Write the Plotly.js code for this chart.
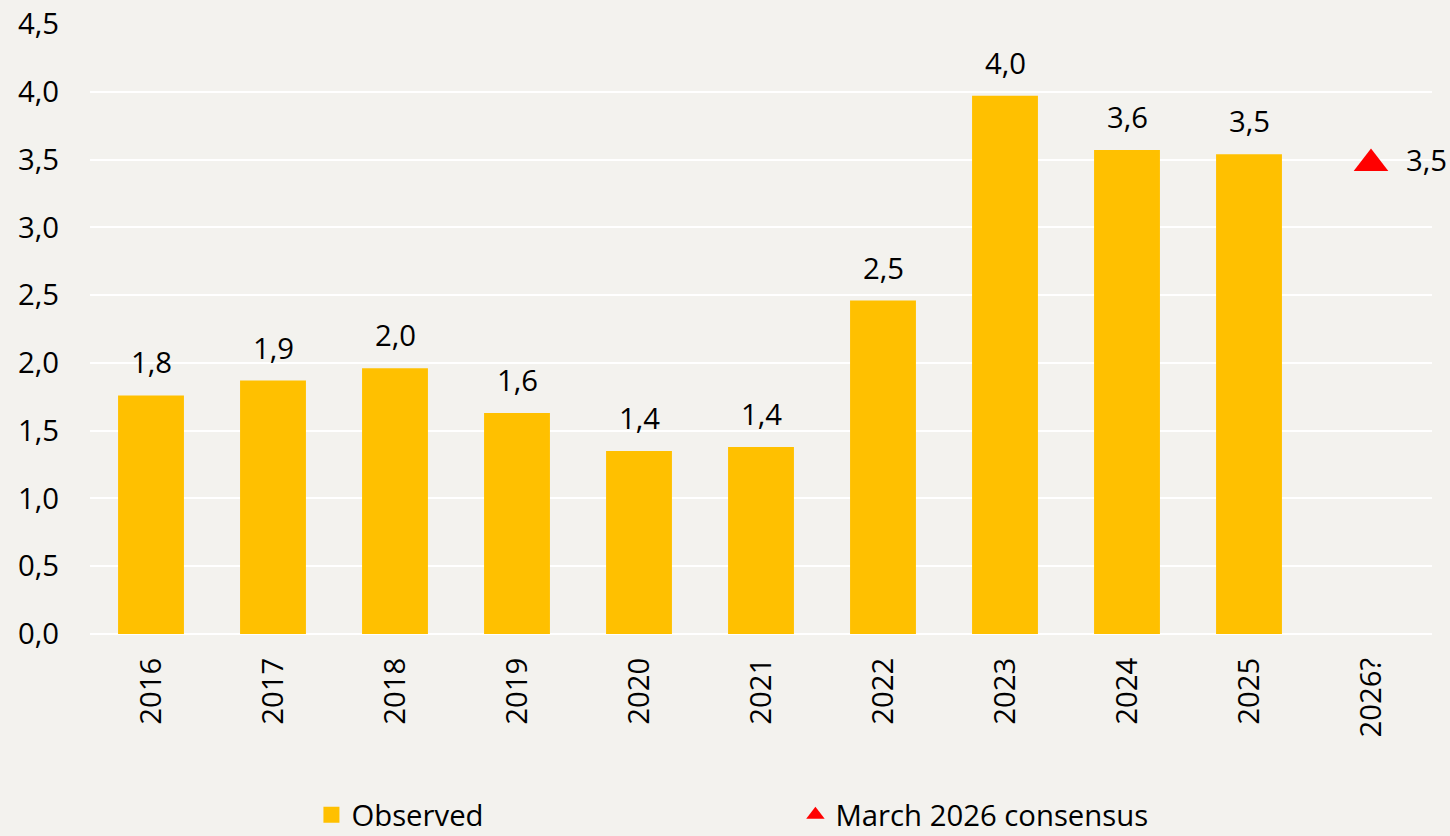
<!DOCTYPE html>
<html>
<head>
<meta charset="utf-8">
<script src="https://cdn.plot.ly/plotly-3.0.1.min.js"></script>
<style>
  html, body { margin: 0; padding: 0; background: #f3f2ee; }
  #chart { width: 1450px; height: 836px; }
</style>
</head>
<body>
<div id="chart"></div>
<script>
const categories = ['2016','2017','2018','2019','2020','2021','2022','2023','2024','2025','2026?'];
const observedYears = ['2016','2017','2018','2019','2020','2021','2022','2023','2024','2025'];
const observedValues = [1.76, 1.87, 1.96, 1.63, 1.35, 1.38, 2.46, 3.97, 3.57, 3.54];
const consensusYears = ['2026?'];
const consensusValues = [3.47];
const yTicks = [0, 0.5, 1, 1.5, 2, 2.5, 3, 3.5, 4, 4.5];
const seriesNames = ['Observed', 'March 2026 consensus'];

const FONT = 'Open Sans, Noto Sans, sans-serif';
const FS = 29.3;
const GOLD = '#ffc000';
const RED = '#ff0000';

// category positions on the axis, derived from the category list
const pos = c => categories.indexOf(c);
const catPositions = categories.map(pos);

const traces = [
  {
    type: 'bar',
    name: seriesNames[0],
    x: observedYears.map(pos),
    y: observedValues,
    width: 0.54,
    marker: { color: GOLD },
    showlegend: false,
    hoverinfo: 'y'
  },
  {
    type: 'scatter',
    mode: 'markers+text',
    name: seriesNames[1],
    x: consensusYears.map(pos),
    y: consensusValues,
    marker: { symbol: 'triangle-up', color: RED, size: 30 },
    texttemplate: '\u00a0\u00a0%{y:.1f}',
    textposition: 'middle right',
    textfont: { family: FONT, size: FS, color: '#000' },
    cliponaxis: false,
    showlegend: false
  },
  // legend keys (no data drawn)
  {
    type: 'scatter',
    mode: 'markers',
    name: seriesNames[0],
    x: [null],
    y: [null],
    marker: { symbol: 'square', color: GOLD, size: 16 },
    showlegend: true,
    hoverinfo: 'skip'
  },
  {
    type: 'scatter',
    mode: 'markers',
    name: seriesNames[1],
    x: [null],
    y: [null],
    marker: { symbol: 'triangle-up', color: RED, size: 16 },
    showlegend: true,
    hoverinfo: 'skip'
  }
];

const annotations = observedYears.map((yr, i) => ({
  x: pos(yr),
  y: observedValues[i],
  xref: 'x',
  yref: 'y',
  text: observedValues[i].toFixed(1).replace('.', ','),
  showarrow: false,
  yanchor: 'bottom',
  yshift: 11,
  font: { family: FONT, size: FS, color: '#000' }
}));

const layout = {
  width: 1450,
  height: 836,
  paper_bgcolor: '#f3f2ee',
  plot_bgcolor: '#f3f2ee',
  separators: ',.',
  font: { family: FONT, size: FS, color: '#000' },
  margin: { l: 90, r: 18, t: 24, b: 202 },
  showlegend: true,
  legend: {
    orientation: 'h',
    x: 0.165,
    xanchor: 'left',
    xref: 'paper',
    y: 0.025,
    yref: 'container',
    yanchor: 'middle',
    entrywidth: 439,
    entrywidthmode: 'pixels',
    itemsizing: 'trace',
    font: { family: FONT, size: FS, color: '#000' },
    bgcolor: 'rgba(0,0,0,0)'
  },
  xaxis: {
    type: 'linear',
    range: [-0.5, categories.length - 0.5],
    tickmode: 'array',
    tickvals: catPositions,
    ticktext: categories,
    tickangle: -90,
    showgrid: false,
    showline: false,
    zeroline: false,
    ticks: '',
    automargin: false,
    ticklabelstandoff: 17,
    tickfont: { family: FONT, size: FS, color: '#000' },
    fixedrange: true
  },
  yaxis: {
    range: [0, 4.5],
    tickvals: yTicks,
    tickformat: '.1f',
    showgrid: true,
    gridcolor: '#ffffff',
    gridwidth: 2,
    zeroline: true,
    zerolinecolor: '#ffffff',
    zerolinewidth: 2,
    showline: false,
    ticks: '',
    automargin: false,
    ticklabelstandoff: 30,
    tickfont: { family: FONT, size: FS, color: '#000' },
    fixedrange: true
  },
  annotations: annotations
};

Plotly.newPlot('chart', traces, layout, { displayModeBar: false, staticPlot: true });
</script>
</body>
</html>
